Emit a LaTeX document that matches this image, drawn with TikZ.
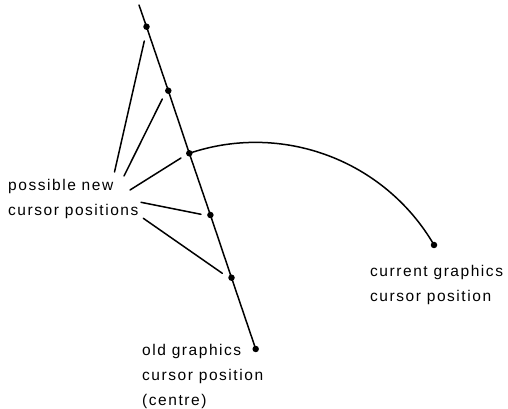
\documentclass[tikz,border=0pt]{standalone}
\usepackage{fontspec}
\setmainfont{Liberation Sans}[LetterSpace=10]
\begin{document}
\begin{tikzpicture}[x=1pt,y=1pt,
  ln/.style={line width=1.5pt,line cap=round},
  dot/.style={circle,fill=black,inner sep=0pt,minimum size=6.5pt},
  lbl/.style={align=left,inner sep=0pt,anchor=base west,
    font=\fontsize{15.5}{25}\selectfont}]
\useasboundingbox (0,0) rectangle (508,409);
% main line points
\coordinate (T) at (139,404);
\node[dot] (d1) at (146.5,382.3) {};
\node[dot] (d2) at (168.3,318.3) {};
\node[dot] (d3) at (189.3,255.7) {};
\node[dot] (d4) at (210.4,194) {};
\node[dot] (d5) at (231.5,131.3) {};
\node[dot] (old) at (255.7,60) {};
\node[dot] (cur) at (434,164) {};
\draw[ln] (T) -- (d1.center) -- (d2.center) -- (d3.center) -- (d4.center) -- (d5.center) -- (old.center);
% arc centred on old cursor position
\draw[ln] (d3.center) arc[start angle=108.7,end angle=30.3,radius=206.6];
% labels (anchor = baseline of last line)
\node[lbl] (pnew) at (8,193) {possible new\\cursor positions};
\node[lbl] (oldl) at (142,3.5) {old graphics\\cursor position\\(centre)};
\node[lbl] (curl) at (370,107) {current graphics\\cursor position};
% pointer lines
\coordinate (s1) at (114.5,237); \coordinate (e1) at (144.3,368);
\coordinate (s2) at (124,233);   \coordinate (e2) at (162.3,310);
\coordinate (s3) at (130,219);   \coordinate (e3) at (181,251);
\coordinate (s4) at (141,206.7); \coordinate (e4) at (201,194.7);
\coordinate (s5) at (143.3,190.7); \coordinate (e5) at (222.3,135.7);
\draw[ln] (s1) -- (e1);
\draw[ln] (s2) -- (e2);
\draw[ln] (s3) -- (e3);
\draw[ln] (s4) -- (e4);
\draw[ln] (s5) -- (e5);
\end{tikzpicture}
\end{document}
